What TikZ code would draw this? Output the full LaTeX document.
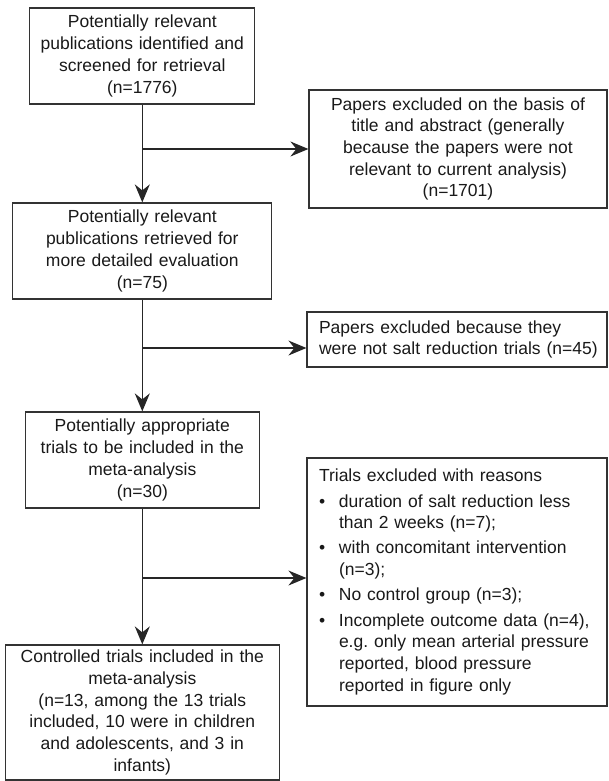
\documentclass[tikz,border=0pt]{standalone}
\usepackage{fontspec}
\setmainfont{Liberation Sans}
\usetikzlibrary{arrows.meta}
\newcommand\bul{\makebox[20pt][l]{\textbullet}}
\newcommand\ind{\hspace*{20pt}}
\begin{document}
\begin{tikzpicture}[x=1pt,y=-1pt,
 box/.style={draw=black!80, line width=1.2pt, text=black!90,
   font=\fontsize{17.5}{21.7}\selectfont, inner xsep=0pt, inner ysep=0pt, align=center},
 lbox/.style={box, inner xsep=12pt, align=left},
 arr/.style={draw=black!85, line width=1.2pt, -{Stealth[length=18pt,width=15pt,inset=6pt]}},
 ln/.style={draw=black!85, line width=1.2pt}]
\useasboundingbox (0,0) rectangle (608,781);

\node[box, minimum width=225pt, minimum height=96pt, text width=215pt] (b1) at (142.3,56)
  {Potentially relevant\\publications identified and\\screened for retrieval\\(n=1776)};
\node[box, minimum width=298pt, minimum height=118pt, text width=288pt] (b2) at (458,149)
  {Papers excluded on the basis of\\title and abstract (generally\\because the papers were not\\relevant to current analysis)\\(n=1701)};
\node[box, minimum width=259pt, minimum height=96pt, text width=249pt] (b3) at (142.3,251)
  {Potentially relevant\\publications retrieved for\\more detailed evaluation\\(n=75)};
\node[lbox, text width=276pt, minimum height=55pt] (b4) at (457,339.5)
  {Papers excluded because they\\\mbox{were not salt reduction trials (n=45)}};
\node[box, minimum width=234pt, minimum height=96pt, text width=224pt] (b5) at (142.3,460)
  {Potentially appropriate\\trials to be included in the\\meta-analysis\\(n=30)};
\node[lbox, text width=276pt, minimum height=248pt] (b7) at (457,582)
  {Trials excluded with reasons\\[3.5pt]
   \bul duration of salt reduction less\\
   \ind than 2 weeks (n=7);\\[3.5pt]
   \bul with concomitant intervention\\
   \ind (n=3);\\[3.5pt]
   \bul No control group (n=3);\\[3.5pt]
   \bul Incomplete outcome data (n=4),\\
   \ind e.g.\ only mean arterial pressure\\
   \ind reported, blood pressure\\
   \ind reported in figure only};
\node[box, minimum width=274pt, minimum height=135pt, text width=264pt] (b6) at (142.3,712.5)
  {Controlled trials included in the\\meta-analysis\\(n=13, among the 13 trials\\included, 10 were in children\\and adolescents, and 3 in\\infants)};

\coordinate (j1) at (142.3,149);
\coordinate (j2) at (142.3,348);
\coordinate (j3) at (142.3,578);
\draw[arr] (b1.south) -- (b3.north);
\draw[arr] (b3.south) -- (b5.north);
\draw[arr] (b5.south) -- (b6.north);
\draw[arr] (j1) -- (j1 -| b2.west);
\draw[arr] (j2) -- (j2 -| b4.west);
\draw[arr] (j3) -- (j3 -| b7.west);
\end{tikzpicture}
\end{document}
